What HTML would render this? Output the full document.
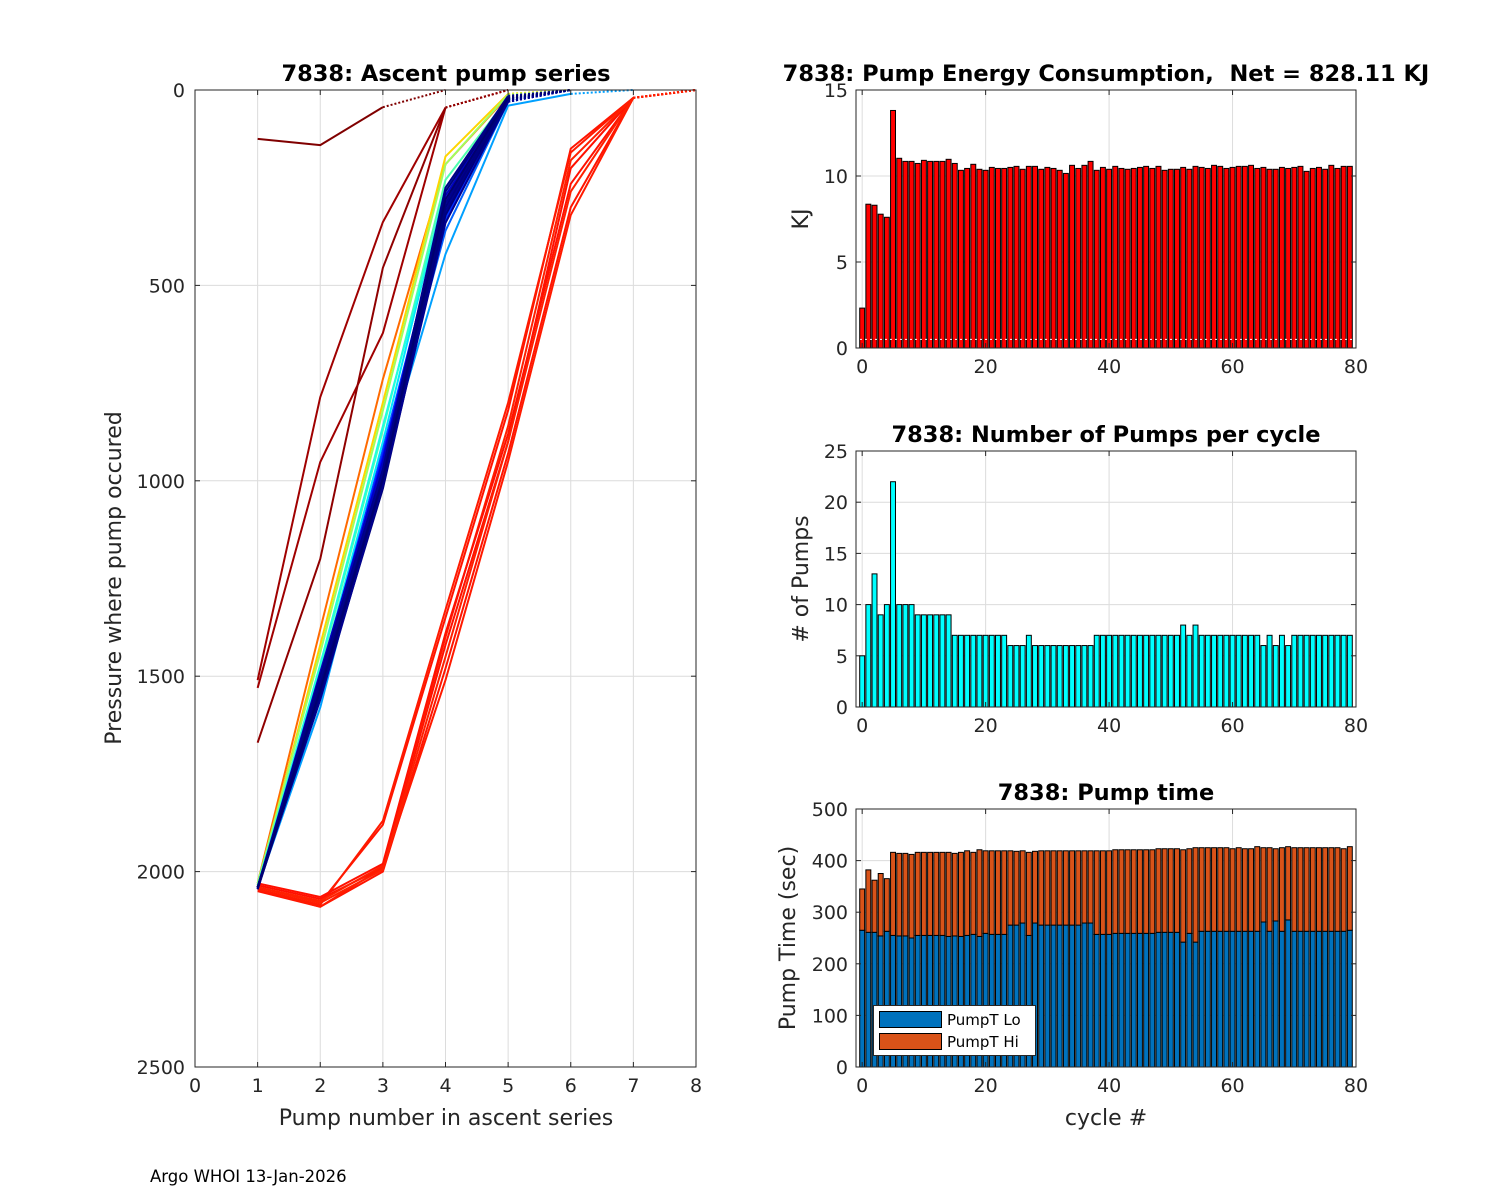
<!DOCTYPE html>
<html><head><meta charset="utf-8"><style>
body{margin:0;background:#fff;}
svg{display:block;font-family:"DejaVu Sans","Liberation Sans",sans-serif;}
text{white-space:pre;}
</style></head><body>
<svg id="fig" width="1500" height="1200" viewBox="0 0 1500 1200" xmlns="http://www.w3.org/2000/svg">
<rect width="1500" height="1200" fill="#fff"/>
<g id="gl"></g>
<g id="g1"></g>
<g id="g2"></g>
<g id="g3"></g>
<text x="150" y="1182" font-size="16.5" fill="#000">Argo WHOI 13-Jan-2026</text>
</svg>
<script>
// ---- data ----
const cycles = Array.from({length:80},(_,i)=>i);
const energyKJ = [2.32,8.36,8.30,7.78,7.60,13.81,11.03,10.85,10.85,10.73,10.91,10.85,10.85,10.85,10.97,10.73,10.33,10.44,10.68,10.39,10.33,10.50,10.44,10.44,10.50,10.56,10.39,10.56,10.56,10.39,10.50,10.44,10.33,10.15,10.62,10.44,10.62,10.85,10.33,10.50,10.39,10.56,10.44,10.39,10.44,10.50,10.56,10.44,10.56,10.33,10.39,10.39,10.50,10.39,10.56,10.50,10.44,10.62,10.56,10.44,10.50,10.56,10.56,10.62,10.44,10.50,10.39,10.39,10.50,10.44,10.50,10.56,10.27,10.44,10.50,10.39,10.62,10.44,10.56,10.56];
const pumpCounts = [5,10,13,9,10,22,10,10,10,9,9,9,9,9,9,7,7,7,7,7,7,7,7,7,6,6,6,7,6,6,6,6,6,6,6,6,6,6,7,7,7,7,7,7,7,7,7,7,7,7,7,7,8,7,8,7,7,7,7,7,7,7,7,7,7,6,7,6,7,6,7,7,7,7,7,7,7,7,7,7];
const pumpTLo = [265,261,261,254,263,255,254,254,250,255,255,255,255,255,253,254,253,255,257,253,259,257,257,257,275,275,279,255,279,275,275,275,275,275,275,275,279,279,257,257,257,259,259,259,259,259,259,259,261,261,261,261,242,259,242,263,263,263,263,263,263,263,263,263,263,281,263,283,263,285,263,263,263,263,263,263,263,263,263,265];
const pumpTTotal = [345,382,362,375,365,416,414,414,412,416,416,416,416,416,416,414,416,419,416,421,419,419,419,419,419,418,419,416,418,419,419,419,419,419,419,419,419,419,419,419,419,421,421,421,421,421,421,421,423,423,423,423,421,423,425,425,425,425,425,425,423,425,423,423,427,425,425,423,425,427,425,425,425,425,425,425,425,425,423,427];
const energyTicks = [0,5,10,15];
const pumpTicks = [0,5,10,15,20,25];
const timeTicks = [0,100,200,300,400,500];
const cycleTicks = [0,20,40,60,80];
const pressTicks = [0,500,1000,1500,2000,2500];
const pumpNumTicks = [0,1,2,3,4,5,6,7,8];
const profilePressures = [
 [125,141,44],
 [1510,786,338,45],
 [1530,952,622,45],
 [1670,1200,455,45],
 [2040,2080,1880,1350,820,150,20],
 [2045,2085,1870,1330,800,160,20],
 [2035,2070,1990,1420,900,200,20],
 [2040,2075,1985,1400,860,180,20],
 [2050,2090,2000,1480,930,300,20],
 [2045,2090,1990,1510,950,320,20],
 [2030,2065,1980,1390,880,240,20],
 [2040,2080,1995,1450,900,260,20],
 [2040,1580,960,420,40,10],
 [2030,1380,740,190,15],
 [2035,1420,800,170,10],
 [2030,1440,820,190,12],
 [2035,1480,870,230,20],
 [2040,1500,900,250,25],
 [2038,1470,860,260,22],
 [2040,1520,920,300,25],
 [2042,1500,930,330,30],
 [2040,1540,950,360,30],
 [2040,1510,940,280,25],
 [2045,1530,960,320,28],
 [2040,1490,950,270,22],
 [2040,1510,980,300,25],
 [2040,1530,1000,310,30],
 [2045,1540,1010,290,20],
 [2040,1520,990,260,18],
 [2040,1500,970,250,15],
 [2045,1550,1020,320,25],
 [2040,1560,1010,340,30],
 [2042,1545,1000,300,22],
 [2040,1535,995,280,20]
];
const profileColors = ['#800000','#a00000','#a00000','#900000',
 '#ff1400','#ff1a00','#ff1000','#ff2000','#ff1400','#ff1a00','#ff1000','#ff2000',
 '#00a0ff','#ff6a00','#ffd500','#9fff5f','#4fffaf','#00e5ff','#20ffdf',
 '#0050ff','#0030ff','#0060ff','#0000ff','#0010e0','#0000c0','#0000a0','#000090',
 '#00008f','#000080','#000088','#00007a','#000090','#000080','#00006f'];

const NS='http://www.w3.org/2000/svg';
function mk(parent,tag,attrs,txt){const e=document.createElementNS(NS,tag);for(const k in attrs)e.setAttribute(k,attrs[k]);if(txt!==undefined)e.textContent=txt;parent.appendChild(e);return e;}
const TXT='#262626';
const TS=19, TT=22.5, LS=22;

const gl=document.getElementById('gl');
const LX0=195,LX1=696,LY0=90,LY1=1067;
const lx=x=>LX0+x*(LX1-LX0)/8;
const ly=p=>LY0+p*(LY1-LY0)/2500;
pumpNumTicks.forEach(t=>{const l=mk(gl,'line',{x1:lx(t),x2:lx(t),y1:LY0,y2:LY1,stroke:'#dcdcdc','stroke-width':1});

});
pressTicks.forEach(t=>{const l=mk(gl,'line',{x1:LX0,x2:LX1,y1:ly(t),y2:ly(t),stroke:'#dcdcdc','stroke-width':1});

});
profilePressures.forEach((pr,i)=>{
  const pts=pr.map((p,j)=>lx(j+1)+','+ly(p)).join(' ');
  const s=mk(gl,'polyline',{points:pts,fill:'none',stroke:profileColors[i],'stroke-width':2,'stroke-linejoin':'round'});
  
  
  const n=pr.length;
  const d=mk(gl,'line',{x1:lx(n),y1:ly(pr[n-1]),x2:lx(n+1),y2:ly(0),stroke:profileColors[i],'stroke-width':2,'stroke-dasharray':'2,2'});
  
  
});
mk(gl,'rect',{x:LX0,y:LY0,width:LX1-LX0,height:LY1-LY0,fill:'none',stroke:TXT,'stroke-width':1});
pumpNumTicks.forEach(t=>{mk(gl,'line',{x1:lx(t),x2:lx(t),y1:LY1,y2:LY1-5,stroke:TXT});mk(gl,'line',{x1:lx(t),x2:lx(t),y1:LY0,y2:LY0+5,stroke:TXT});
const tl=mk(gl,'text',{x:lx(t),y:LY1+25,'font-size':TS,fill:TXT,'text-anchor':'middle'},t);

});
pressTicks.forEach(t=>{mk(gl,'line',{x1:LX0,x2:LX0+5,y1:ly(t),y2:ly(t),stroke:TXT});mk(gl,'line',{x1:LX1,x2:LX1-5,y1:ly(t),y2:ly(t),stroke:TXT});
const tl=mk(gl,'text',{x:LX0-10,y:ly(t)+7,'font-size':TS,fill:TXT,'text-anchor':'end'},t);

});
let e;
e=mk(gl,'text',{x:446,y:81,'font-size':TT,'font-weight':'bold','text-anchor':'middle',fill:'#000'},'7838: Ascent pump series');


e=mk(gl,'text',{x:446,y:1125,'font-size':LS,'text-anchor':'middle',fill:TXT},'Pump number in ascent series');


e=mk(gl,'text',{x:0,y:0,'font-size':LS,'text-anchor':'middle',fill:TXT,transform:'translate(121,578) rotate(-90)'},'Pressure where pump occured');



const RX0=856,RX1=1356;
const rx=c=>RX0+(c+1)*(RX1-RX0)/81;
const bw=0.8*(RX1-RX0)/81;
function axesFrame(g,y0,y1,ticks,ymax,title,ylab,ylabX,xlab){
  const ry=v=>y1-v*(y1-y0)/ymax;
  cycleTicks.forEach(t=>{const l=mk(g,'line',{x1:rx(t),x2:rx(t),y1:y0,y2:y1,stroke:'#dcdcdc'});
  
  });
  ticks.forEach(t=>{const l=mk(g,'line',{x1:RX0,x2:RX1,y1:ry(t),y2:ry(t),stroke:'#dcdcdc'});
  
  });
  let t1=mk(g,'text',{x:1106,y:y0-9,'font-size':TT,'font-weight':'bold','text-anchor':'middle',fill:'#000'},title);
  
  
  let t2=mk(g,'text',{x:0,y:0,'font-size':LS,'text-anchor':'middle',fill:TXT,transform:`translate(${ylabX},${(y0+y1)/2}) rotate(-90)`},ylab);
  
  
  if(xlab){let t3=mk(g,'text',{x:1106,y:y1+58,'font-size':LS,'text-anchor':'middle',fill:TXT},xlab);
  
  }
  return ry;
}
function axesTop(g,y0,y1,ticks,ry){
  mk(g,'rect',{x:RX0,y:y0,width:RX1-RX0,height:y1-y0,fill:'none',stroke:TXT});
  cycleTicks.forEach(t=>{mk(g,'line',{x1:rx(t),x2:rx(t),y1:y1,y2:y1-5,stroke:TXT});mk(g,'line',{x1:rx(t),x2:rx(t),y1:y0,y2:y0+5,stroke:TXT});
  const tl=mk(g,'text',{x:rx(t),y:y1+25,'font-size':TS,fill:TXT,'text-anchor':'middle'},t);
  
  });
  ticks.forEach(t=>{mk(g,'line',{x1:RX0,x2:RX0+5,y1:ry(t),y2:ry(t),stroke:TXT});mk(g,'line',{x1:RX1,x2:RX1-5,y1:ry(t),y2:ry(t),stroke:TXT});
  const tl=mk(g,'text',{x:RX0-8,y:ry(t)+7,'font-size':TS,fill:TXT,'text-anchor':'end'},t);
  
  });
}
const g1=document.getElementById('g1');
const ry1=axesFrame(g1,90,348,energyTicks,15,'7838: Pump Energy Consumption,  Net = 828.11 KJ','KJ',808);
cycles.forEach((c,i)=>{const b=mk(g1,'rect',{x:rx(c)-bw/2,y:ry1(energyKJ[i]),width:bw,height:ry1(0)-ry1(energyKJ[i]),fill:'#ff0000',stroke:'#000','stroke-width':1});

});
e=mk(g1,'line',{x1:RX0+4,x2:RX1-4,y1:ry1(0.5),y2:ry1(0.5),stroke:'#fff','stroke-dasharray':'2,3'});


axesTop(g1,90,348,energyTicks,ry1);
const g2=document.getElementById('g2');
const ry2=axesFrame(g2,451,707,pumpTicks,25,'7838: Number of Pumps per cycle','# of Pumps',808);
cycles.forEach((c,i)=>{const b=mk(g2,'rect',{x:rx(c)-bw/2,y:ry2(pumpCounts[i]),width:bw,height:ry2(0)-ry2(pumpCounts[i]),fill:'#00ffff',stroke:'#000','stroke-width':1});

});
axesTop(g2,451,707,pumpTicks,ry2);
const g3=document.getElementById('g3');
const ry3=axesFrame(g3,809,1067,timeTicks,500,'7838: Pump time','Pump Time (sec)',795,'cycle #');
cycles.forEach((c,i)=>{
  const bl=mk(g3,'rect',{x:rx(c)-bw/2,y:ry3(pumpTLo[i]),width:bw,height:ry3(0)-ry3(pumpTLo[i]),fill:'#0072BD',stroke:'#000','stroke-width':1});
  
  
  const bh=mk(g3,'rect',{x:rx(c)-bw/2,y:ry3(pumpTTotal[i]),width:bw,height:ry3(pumpTLo[i])-ry3(pumpTTotal[i]),fill:'#D95319',stroke:'#000','stroke-width':1});
  
  
});
axesTop(g3,809,1067,timeTicks,ry3);
const lg=mk(g3,'g',{});


mk(lg,'rect',{x:873.5,y:1005.5,width:162,height:50,fill:'#fff',stroke:'#262626'});
let le=mk(lg,'rect',{x:879.5,y:1011.5,width:62,height:16,fill:'#0072BD',stroke:'#000'});


le=mk(lg,'text',{x:947,y:1025,'font-size':15,fill:'#000'},'PumpT Lo');


le=mk(lg,'rect',{x:879.5,y:1033.5,width:62,height:16,fill:'#D95319',stroke:'#000'});


le=mk(lg,'text',{x:947,y:1047,'font-size':15,fill:'#000'},'PumpT Hi');


</script>
</body></html>
